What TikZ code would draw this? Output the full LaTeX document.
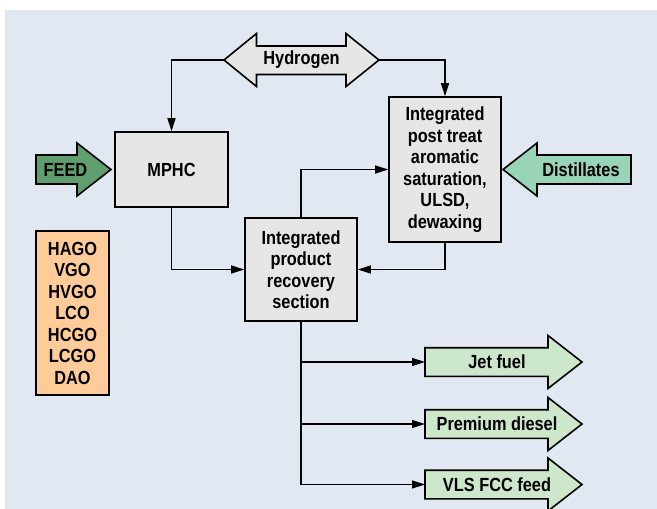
\documentclass[tikz,border=0pt]{standalone}
\usepackage{fontspec}
\setmainfont[FakeStretch=0.86]{Liberation Sans}
\usetikzlibrary{arrows.meta,calc}
\definecolor{bg}{HTML}{E1E8F2}
\definecolor{boxgrey}{HTML}{E6E6E6}
\definecolor{feedgreen}{HTML}{5E9E6F}
\definecolor{distgreen}{HTML}{97D4B8}
\definecolor{outgreen}{HTML}{CDE7CB}
\definecolor{listorange}{HTML}{FFCC99}
\tikzset{
  lab/.style={font=\fontsize{19}{21.5}\selectfont\bfseries, align=center, inner sep=0pt},
  box/.style={lab, draw=black, line width=1.6pt, fill=boxgrey},
  flowshape/.style={draw=black, line width=1.6pt, line join=miter},
  conn/.style={line width=1.4pt, -{Triangle[length=13pt,width=8pt]}},
}
\begin{document}
\begin{tikzpicture}[x=1pt,y=-1pt]
\clip (0,0) rectangle (657,509);
\fill[bg] (5,10) rectangle (657,509);

% boxes
\node[box, minimum width=113pt, minimum height=75pt] (mphc) at (171.5,169.5) {MPHC};
\node[box, minimum width=112pt, minimum height=145pt] (post) at (445,169.5)
  {Integrated\\post treat\\aromatic\\saturation,\\ULSD,\\dewaxing};
\node[box, minimum width=112pt, minimum height=103pt] (rec) at (301,269.5)
  {Integrated\\product\\recovery\\section};
\node[box, fill=listorange, minimum width=73pt, minimum height=164pt] (list) at (72.5,313)
  {HAGO\\VGO\\HVGO\\LCO\\HCGO\\LCGO\\DAO};

% hydrogen double arrow
\draw[flowshape, fill=boxgrey] (224,60) -- (256.5,33.5) -- (256.5,46) -- (346,46) -- (346,33.5)
  -- (379,60) -- (346,86.5) -- (346,74.5) -- (256.5,74.5) -- (256.5,86.5) -- cycle;
\coordinate (h2L) at (224,60);
\coordinate (h2R) at (379,60);
\node[lab] (h2) at (301.5,60) {Hydrogen};

% feed arrow
\draw[flowshape, fill=feedgreen] (36,155) -- (77,155) -- (77,143) -- (111,169.5) -- (77,196)
  -- (77,184) -- (36,184) -- cycle;
\node[lab] (feed) at (65.5,169.5) {FEED};

% distillates arrow
\draw[flowshape, fill=distgreen] (631,155) -- (537,155) -- (537,143) -- (503,169.5) -- (537,196)
  -- (537,184) -- (631,184) -- cycle;
\node[lab] (dist) at (581,169.5) {Distillates};

% product arrows
\foreach \yy/\nm/\txt in {362/jet/Jet fuel, 424/diesel/Premium diesel, 484.5/vls/VLS FCC feed}{
  \draw[flowshape, fill=outgreen] (425,\yy-14.3) -- (548,\yy-14.3) -- (548,\yy-26.5) -- (582,\yy)
    -- (548,\yy+26.5) -- (548,\yy+14.3) -- (425,\yy+14.3) -- cycle;
  \coordinate (\nm in) at (425,\yy);
  \node[lab] (\nm) at (497,\yy) {\txt};
}

% connectors
\draw[conn] (h2L) -| (mphc.north);
\draw[conn] (h2R) -| (post.north);
\draw[conn] (mphc.south) |- (rec.west);
\draw[conn] (post.south) |- (rec.east);
\draw[conn] (rec.north) |- (post.west);
\draw[conn] (rec.south) |- (jetin);
\draw[conn] (rec.south) |- (dieselin);
\draw[conn] (rec.south) |- (vlsin);
\end{tikzpicture}
\end{document}
